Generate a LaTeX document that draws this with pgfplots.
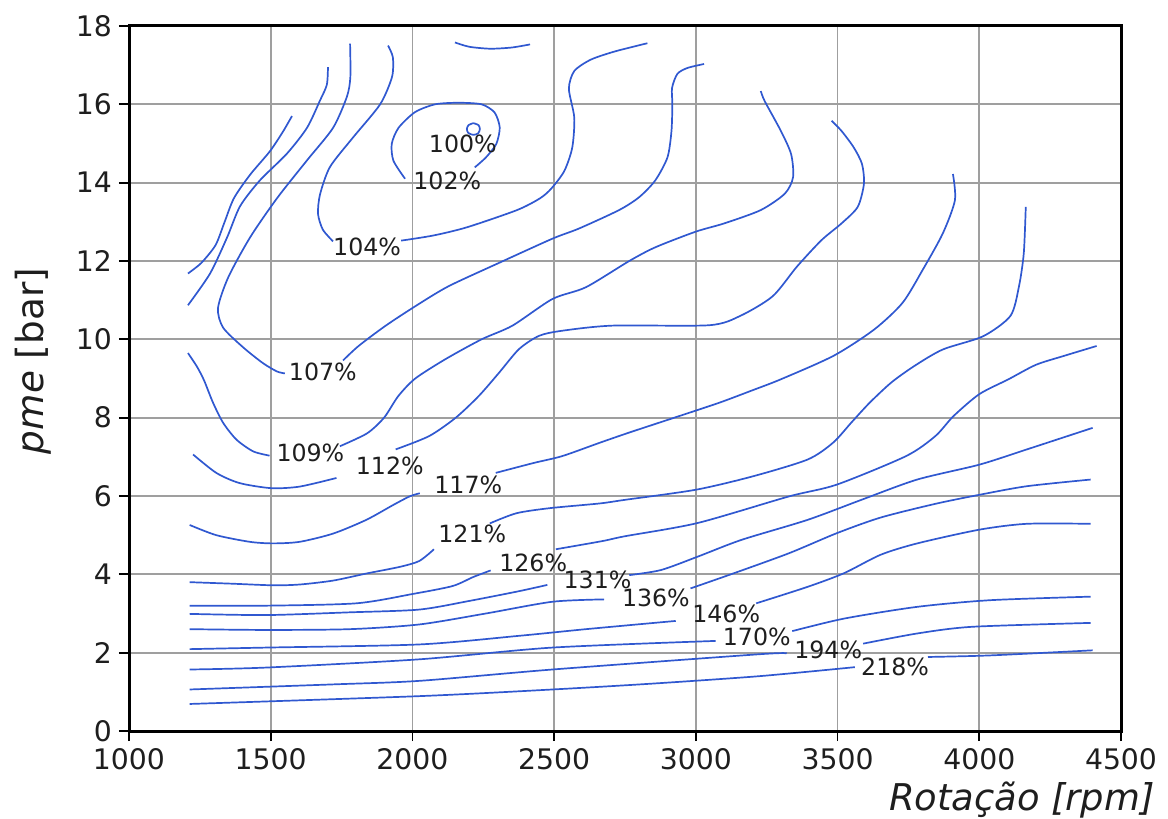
\documentclass[border=0pt]{standalone}
\usepackage{pgfplots}
\pgfplotsset{compat=1.18}
\usepackage{fontspec}
\setmainfont{DejaVu Sans}
\definecolor{cblue}{RGB}{48,88,208}
\definecolor{txt}{RGB}{30,30,30}
\begin{document}
\begin{tikzpicture}[
  cline/.style={color=cblue, line width=0.85bp, smooth, tension=0.45, mark=none},
  clabel/.style={font=\fontsize{11.9}{13}\selectfont, text=txt, inner sep=0pt},
]
\begin{axis}[
  scale only axis, width=496bp, height=352.5bp,
  xmin=1000, xmax=4500, ymin=0, ymax=18,
  xtick={1000,1500,...,4500},
  xticklabels={1000,1500,2000,2500,3000,3500,4000,4500},
  ytick={0,2,...,18},
  scaled ticks=false,
  /pgf/number format/assume math mode=true,
  tick label style={font=\fontsize{14.2}{16}\selectfont, text=txt},
  tick align=outside, major tick length=5bp,
  tick style={black, line width=0.9bp},
  xtick pos=bottom, ytick pos=left,
  grid=major, major grid style={gray!75, line width=0.9bp},
  axis line style={black, line width=1.5bp},
  clip=false,
]
% unlabeled left lines
\addplot[cline] coordinates {(1208,11.68)(1255,11.95)(1305,12.4)(1335,12.95)(1370,13.6)(1427,14.2)(1497,14.8)(1543,15.3)(1575,15.7)};
\addplot[cline] coordinates {(1208,10.87)(1286,11.68)(1346,12.6)(1392,13.4)(1462,14.06)(1557,14.74)(1628,15.4)(1674,16.1)(1698,16.5)(1702,16.95)};
% top arc
\addplot[cline] coordinates {(2150,17.58)(2200,17.47)(2274,17.42)(2350,17.45)(2415,17.53)};
% 100%
\addplot[cline] coordinates {(2215,15.52)(2233,15.47)(2238,15.37)(2232,15.26)(2215,15.22)(2197,15.27)(2192,15.37)(2198,15.47)(2215,15.52)};
% 102%
\addplot[cline] coordinates {(1974,14.1)(1933,14.56)(1927,14.99)(1951,15.4)(2009,15.8)(2080,16.0)(2162,16.04)(2244,16.0)(2290,15.79)(2308,15.41)(2296,14.99)(2260,14.65)(2220,14.39)};
% 104%
\addplot[cline] coordinates {(1914,17.5)(1931,17.2)(1928,16.7)(1886,16.0)(1790,15.15)(1709,14.4)(1674,13.7)(1667,13.2)(1684,12.8)(1720,12.5)};
\addplot[cline] coordinates {(1960,12.52)(2073,12.65)(2192,12.86)(2369,13.3)(2450,13.6)(2490,13.85)(2536,14.3)(2564,14.9)(2571,15.66)(2552,16.4)(2571,16.85)(2629,17.14)(2714,17.35)(2829,17.56)};
% 107%
\addplot[cline] coordinates {(1780,17.55)(1781,16.7)(1769,16.2)(1720,15.4)(1628,14.57)(1522,13.6)(1427,12.6)(1350,11.58)(1314,10.8)(1332,10.3)(1402,9.8)(1473,9.39)(1522,9.18)(1550,9.13)};
\addplot[cline] coordinates {(1755,9.46)(1810,9.83)(1904,10.34)(2009,10.84)(2126,11.35)(2302,11.94)(2494,12.57)(2588,12.83)(2729,13.3)(2800,13.63)(2857,14.06)(2900,14.65)(2914,15.32)(2917,16.0)(2916,16.42)(2935,16.78)(2971,16.93)(3029,17.03)};
% 109%
\addplot[cline] coordinates {(1208,9.65)(1240,9.3)(1265,8.95)(1296,8.39)(1332,7.87)(1379,7.44)(1438,7.14)(1496,7.03)};
\addplot[cline] coordinates {(1744,7.27)(1840,7.6)(1900,8.0)(1950,8.55)(2010,9.0)(2118,9.5)(2244,10.0)(2353,10.35)(2494,11.03)(2612,11.33)(2765,12.0)(2857,12.35)(3000,12.75)(3100,12.96)(3229,13.3)(3314,13.72)(3343,14.14)(3336,14.73)(3300,15.32)(3243,16.08)(3229,16.34)};
% 112%
\addplot[cline] coordinates {(1226,7.06)(1308,6.59)(1390,6.33)(1502,6.2)(1602,6.24)(1732,6.46)};
\addplot[cline] coordinates {(1941,7.19)(2059,7.53)(2153,8.0)(2235,8.56)(2306,9.15)(2376,9.75)(2447,10.09)(2529,10.22)(2706,10.35)(3047,10.36)(3157,10.6)(3271,11.1)(3357,11.86)(3443,12.53)(3514,12.96)(3571,13.38)(3593,13.97)(3586,14.48)(3557,14.9)(3514,15.32)(3479,15.58)};
% 117%
\addplot[cline] coordinates {(1214,5.26)(1308,5.0)(1426,4.83)(1508,4.79)(1602,4.83)(1720,5.04)(1837,5.39)(1932,5.77)(1990,5.99)(2026,6.07)};
\addplot[cline] coordinates {(2294,6.59)(2426,6.84)(2529,7.02)(2661,7.36)(2765,7.62)(2941,8.04)(3082,8.38)(3200,8.7)(3300,8.98)(3486,9.58)(3629,10.25)(3729,10.93)(3800,11.77)(3871,12.7)(3914,13.55)(3907,14.22)};
% 121%
\addplot[cline] coordinates {(1214,3.8)(1367,3.76)(1508,3.72)(1602,3.74)(1720,3.84)(1837,4.02)(1955,4.19)(2024,4.34)(2076,4.64)};
\addplot[cline] coordinates {(2273,5.3)(2367,5.56)(2485,5.69)(2661,5.81)(2748,5.9)(3000,6.16)(3200,6.5)(3394,6.93)(3484,7.36)(3548,7.87)(3613,8.38)(3690,8.9)(3771,9.32)(3871,9.74)(4014,10.08)(4110,10.6)(4140,11.35)(4157,12.2)(4164,13.38)};
% 126%
\addplot[cline] coordinates {(1214,3.2)(1485,3.2)(1802,3.26)(2002,3.5)(2141,3.7)(2214,3.93)(2276,4.1)};
\addplot[cline] coordinates {(2506,4.64)(2671,4.85)(2748,4.97)(3006,5.31)(3329,5.99)(3497,6.29)(3742,7.02)(3845,7.53)(3909,8.04)(4000,8.6)(4103,8.98)(4200,9.35)(4300,9.58)(4414,9.83)};
% 131%
\addplot[cline] coordinates {(1214,2.99)(1485,2.96)(1779,3.03)(2024,3.1)(2200,3.32)(2376,3.57)(2476,3.73)};
\addplot[cline] coordinates {(2765,3.98)(2877,4.11)(3006,4.45)(3161,4.88)(3394,5.39)(3587,5.91)(3781,6.42)(4000,6.8)(4168,7.19)(4400,7.74)};
% 136%
\addplot[cline] coordinates {(1214,2.6)(1485,2.58)(1779,2.6)(2024,2.72)(2259,3.0)(2494,3.3)(2676,3.36)};
\addplot[cline] coordinates {(2981,3.64)(3135,4.03)(3329,4.54)(3497,5.05)(3652,5.45)(3845,5.8)(4000,6.03)(4168,6.25)(4393,6.42)};
% 146%
\addplot[cline] coordinates {(1214,2.09)(1485,2.13)(2024,2.21)(2376,2.43)(2612,2.6)(2929,2.81)};
\addplot[cline] coordinates {(3213,3.26)(3394,3.68)(3523,4.03)(3652,4.5)(3781,4.79)(4000,5.14)(4168,5.29)(4393,5.29)};
% 170%
\addplot[cline] coordinates {(1214,1.57)(1485,1.62)(2024,1.83)(2494,2.13)(3070,2.3)};
\addplot[cline] coordinates {(3340,2.55)(3523,2.87)(3781,3.17)(4039,3.34)(4393,3.43)};
% 194%
\addplot[cline] coordinates {(1214,1.06)(1720,1.19)(2024,1.28)(2494,1.57)(3224,1.96)(3320,1.98)};
\addplot[cline] coordinates {(3590,2.23)(3781,2.49)(3974,2.66)(4393,2.76)};
% 218%
\addplot[cline] coordinates {(1214,0.69)(2024,0.89)(2494,1.06)(2847,1.21)(3224,1.4)(3561,1.63)};
\addplot[cline] coordinates {(3819,1.89)(4039,1.93)(4400,2.06)};
% contour labels
\node[clabel] at (axis cs:2178,15.0) {100\%};
\node[clabel] at (axis cs:2123,14.05) {102\%};
\node[clabel] at (axis cs:1840,12.36) {104\%};
\node[clabel] at (axis cs:1684,9.17) {107\%};
\node[clabel] at (axis cs:1640,7.1) {109\%};
\node[clabel] at (axis cs:1920,6.78) {112\%};
\node[clabel] at (axis cs:2197,6.29) {117\%};
\node[clabel] at (axis cs:2211,5.04) {121\%};
\node[clabel] at (axis cs:2426,4.3) {126\%};
\node[clabel] at (axis cs:2653,3.86) {131\%};
\node[clabel] at (axis cs:2859,3.4) {136\%};
\node[clabel] at (axis cs:3107,3.0) {146\%};
\node[clabel] at (axis cs:3215,2.4) {170\%};
\node[clabel] at (axis cs:3467,2.08) {194\%};
\node[clabel] at (axis cs:3703,1.65) {218\%};
\coordinate (bbsw) at (rel axis cs:0,0);
\coordinate (bbne) at (rel axis cs:1,1);
\coordinate (xl) at (rel axis cs:1,0);
\coordinate (yl) at (rel axis cs:0,0.5);
\end{axis}
\node[anchor=north east, inner sep=0pt, font=\fontsize{18.5}{20}\selectfont, text=txt] at ([shift={(17bp,-25bp)}]xl) {\textit{Rotação [rpm]}};
\node[rotate=90, anchor=north, inner sep=0pt, font=\fontsize{18.75}{20}\selectfont, text=txt] at ([shift={(-57bp,8.75bp)}]yl) {\textit{pme} [bar]};
\pgfresetboundingbox
\path[use as bounding box] ([shift={(-64.5bp,-44bp)}]bbsw) rectangle ([shift={(23.5bp,13bp)}]bbne);
\end{tikzpicture}
\end{document}
